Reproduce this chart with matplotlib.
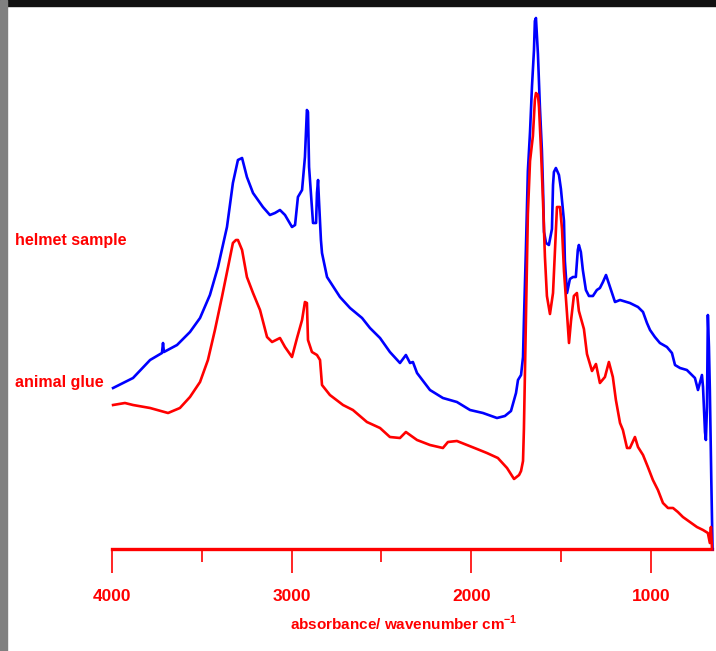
import matplotlib
matplotlib.use("Agg")
import matplotlib.pyplot as plt
from matplotlib.patches import Rectangle

# helmet sample (blue) - wavenumber / absorbance (arbitrary units)
helmet_wn = [3994, 3883, 3788, 3722, 3716, 3711, 3638, 3566, 3510, 3455, 3410, 3360,
             3327, 3299, 3276, 3249, 3215, 3160, 3121, 3093, 3065, 3037, 2998, 2981,
             2965, 2942, 2926, 2915, 2909, 2903, 2881, 2864, 2859, 2853, 2848, 2837,
             2831, 2803, 2731, 2675, 2608, 2564, 2508, 2453, 2397, 2364, 2341, 2325,
             2302, 2230, 2158, 2080, 2007, 1935, 1857, 1813, 1779, 1751, 1740, 1723,
             1712, 1707, 1696, 1685, 1673, 1662, 1651, 1646, 1640, 1629, 1618, 1607,
             1601, 1595, 1584, 1568, 1551, 1545, 1540, 1529, 1512, 1501, 1484, 1479,
             1467, 1451, 1434, 1418, 1407, 1401, 1390, 1379, 1362, 1345, 1323, 1301,
             1284, 1267, 1250, 1228, 1200, 1172, 1117, 1072, 1044, 1022, 1005, 978,
             950, 911, 883, 866, 838, 800, 772, 755, 738, 716, 710, 699, 694, 688,
             685, 683, 677, 672, 664, 657]
helmet_abs = [161, 171, 189, 196, 206, 197, 204, 217, 231, 254, 282, 322,
              366, 389, 391, 372, 356, 342, 334, 336, 339, 334, 322, 324,
              352, 359, 392, 439, 437, 382, 326, 326, 356, 369, 349, 309,
              296, 272, 252, 241, 231, 221, 211, 197, 186, 194, 186, 187,
              176, 159, 151, 147, 139, 136, 131, 133, 138, 156, 169, 174,
              192, 228, 299, 378, 417, 463, 499, 528, 531, 495, 442, 399,
              363, 317, 306, 304, 320, 364, 377, 381, 374, 360, 328, 288,
              256, 270, 272, 272, 299, 304, 297, 279, 259, 253, 253, 259,
              261, 267, 274, 262, 247, 249, 246, 242, 237, 226, 219, 212,
              206, 202, 196, 184, 181, 179, 174, 171, 159, 174, 162, 117, 109, 142,
              202, 234, 202, 159, 70, 0]

# animal glue (red)
glue_wn = [3994, 3928, 3883, 3788, 3688, 3622, 3566, 3510, 3466, 3427, 3388, 3354,
           3327, 3310, 3299, 3276, 3249, 3215, 3176, 3137, 3109, 3065, 3037, 2998,
           2970, 2942, 2926, 2915, 2909, 2887, 2859, 2842, 2831, 2787, 2714, 2659,
           2581, 2508, 2453, 2397, 2364, 2341, 2302, 2230, 2158, 2130, 2080, 2024,
           1968, 1913, 1852, 1801, 1762, 1734, 1723, 1712, 1707, 1696, 1685, 1673,
           1657, 1646, 1640, 1629, 1623, 1612, 1601, 1590, 1579, 1562, 1545, 1534,
           1523, 1506, 1495, 1484, 1467, 1456, 1445, 1429, 1412, 1401, 1373, 1356,
           1328, 1306, 1284, 1256, 1234, 1212, 1195, 1172, 1156, 1133, 1117, 1089,
           1072, 1044, 1017, 989, 961, 933, 905, 877, 850, 822, 783, 744,
           710, 683, 672, 666, 660]
glue_abs = [144, 146, 144, 141, 136, 141, 152, 167, 189, 219, 252, 282,
            306, 309, 309, 299, 272, 256, 239, 212, 207, 211, 202, 192,
            211, 229, 247, 246, 209, 197, 194, 189, 164, 154, 144, 139,
            127, 121, 112, 111, 117, 114, 109, 104, 101, 107, 108, 104,
            100, 96, 91, 81, 70, 74, 78, 88, 120, 228, 335, 388,
            413, 449, 456, 454, 442, 399, 349, 292, 253, 235, 256, 299,
            342, 342, 320, 278, 235, 206, 228, 253, 256, 238, 220, 195,
            178, 185, 166, 172, 187, 172, 149, 126, 119, 101, 101, 112,
            102, 94, 82, 69, 59, 46, 41, 41, 37, 32, 27, 22,
            19, 16, 6, 22, 0]

major_ticks = [4000, 3000, 2000, 1000]
minor_ticks = [3500, 2500, 1500]

RED = "#ff0000"
BLUE = "#0000ff"
FONT = ["Liberation Sans", "DejaVu Sans"]

W, H = 716, 651
fig = plt.figure(figsize=(W / 100, H / 100), dpi=100)
fig.patch.set_facecolor("white")

# scanned frame edges
fig.patches.append(Rectangle((0, 1 - 6 / H), 1, 6 / H, transform=fig.transFigure,
                             color="#111111", zorder=0))
fig.patches.append(Rectangle((0, 0), 7 / W, 1, transform=fig.transFigure,
                             color="#808080", zorder=1))

ax = fig.add_axes([112 / W, (H - 549) / H, 600 / W, 542 / H])
ax.plot(helmet_wn, helmet_abs, color=BLUE, lw=1.9, clip_on=False, zorder=3)
ax.plot(glue_wn, glue_abs, color=RED, lw=1.9, clip_on=False, zorder=3)

ax.set_xlim(4000, 660)
ax.set_ylim(0, 542)
for s in ["top", "left", "right"]:
    ax.spines[s].set_visible(False)
ax.spines["bottom"].set_color(RED)
ax.spines["bottom"].set_linewidth(2.4)
ax.set_yticks([])
ax.set_xticks(major_ticks)
ax.set_xticks(minor_ticks, minor=True)
ax.tick_params(axis="x", which="major", direction="out", length=17, width=1.2,
               color=RED, labelcolor=RED, pad=12)
ax.tick_params(axis="x", which="minor", direction="out", length=9.5, width=1.2,
               color=RED)
for lab in ax.get_xticklabels():
    lab.set_family(FONT)
    lab.set_fontsize(12.5)
    lab.set_fontweight("bold")

fig.text(404 / W, 1 - 623 / H, r"absorbance/ wavenumber cm$^{\mathregular{-1}}$",
         color=RED, family=FONT, fontsize=11, fontweight="bold",
         ha="center", va="center")

fig.text(15 / W, 1 - 240 / H, "helmet sample", color=RED, family=FONT,
         fontsize=11.5, fontweight="bold", ha="left", va="center")
fig.text(15 / W, 1 - 383 / H, "animal glue", color=RED, family=FONT,
         fontsize=11.5, fontweight="bold", ha="left", va="center")

fig.savefig("out.png", dpi=100, facecolor="white")
